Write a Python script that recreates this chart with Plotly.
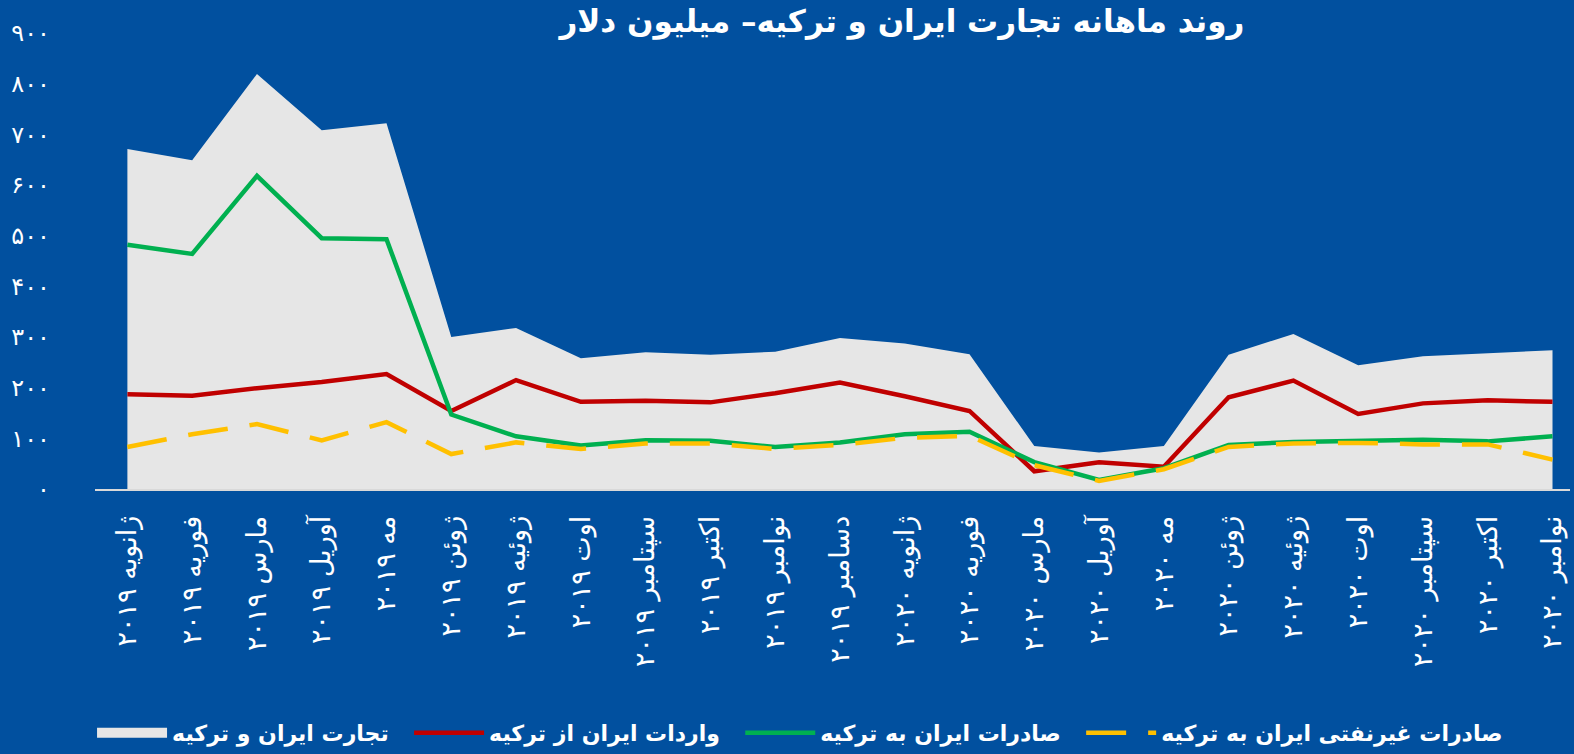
import plotly.graph_objects as go

months = ["ژانویه", "فوریه", "مارس", "آوریل", "مه", "ژوئن", "ژوئیه", "اوت",
          "سپتامبر", "اکتبر", "نوامبر", "دسامبر",
          "ژانویه", "فوریه", "مارس", "آوریل", "مه", "ژوئن", "ژوئیه", "اوت",
          "سپتامبر", "اکتبر", "نوامبر"]
years = ["۲۰۱۹"] * 12 + ["۲۰۲۰"] * 11
categories = [f"{m} {y}" for m, y in zip(months, years)]

total_trade = [671, 649, 819, 708, 722, 300, 318, 258, 270, 265, 271, 298,
               287, 266, 85, 72, 85, 265, 306, 244, 262, 268, 274]
imports_from_turkey = [187, 184, 199, 211, 227, 154, 215, 172, 174, 171, 189, 210,
                       183, 154, 35, 53, 44, 181, 214, 148, 169, 175, 172]
exports_to_turkey = [482, 464, 618, 495, 493, 147, 104, 86, 96, 95, 83, 92,
                     108, 113, 53, 18, 41, 87, 93, 96, 97, 94, 104]
nonoil_exports = [83, 108, 128, 96, 132, 69, 92, 79, 90, 90, 79, 87,
                  101, 105, 47, 16, 39, 83, 90, 91, 88, 88, 58]

y_ticks = [0, 100, 200, 300, 400, 500, 600, 700, 800, 900]
y_tick_text = ["۰", "۱۰۰", "۲۰۰", "۳۰۰", "۴۰۰", "۵۰۰", "۶۰۰", "۷۰۰", "۸۰۰", "۹۰۰"]

names = ["تجارت ایران و ترکیه", "واردات ایران از ترکیه",
         "صادرات ایران به ترکیه", "صادرات غیرنفتی ایران به ترکیه"]
title_text = "روند ماهانه تجارت ایران و ترکیه– میلیون دلار"

BG = "#01509F"
FONT = "DejaVu Sans"
PAD = "\u00a0\u00a0"

fig = go.Figure()
fig.add_trace(go.Scatter(x=categories, y=total_trade, name=names[0], mode="lines",
                         fill="tozeroy", fillcolor="#E6E6E6", showlegend=False,
                         legendgroup="total", line=dict(color="#E6E6E6", width=0)))
# legend proxy for the area (thicker swatch like the original box)
fig.add_trace(go.Scatter(x=[None], y=[None], name=names[0] + PAD, mode="lines",
                         legendgroup="total", hoverinfo="skip",
                         line=dict(color="#E6E6E6", width=18)))
fig.add_trace(go.Scatter(x=categories, y=imports_from_turkey, name=names[1] + PAD, mode="lines",
                         line=dict(color="#C00000", width=4.5)))
fig.add_trace(go.Scatter(x=categories, y=exports_to_turkey, name=names[2] + PAD, mode="lines",
                         line=dict(color="#00B050", width=4.5)))
fig.add_trace(go.Scatter(x=categories, y=nonoil_exports, name=names[3], mode="lines",
                         line=dict(color="#FFC000", width=4.5, dash="40px,22px")))

fig.update_layout(
    width=1574, height=754,
    paper_bgcolor=BG, plot_bgcolor=BG,
    margin=dict(l=95, r=4, t=33, b=265, autoexpand=False),
    font=dict(family=FONT, color="white"),
    title=dict(text=f"<b>{title_text}</b>", xref="container", x=0.573, xanchor="center",
               yref="container", y=0.972, yanchor="middle",
               font=dict(size=31, color="white", family=FONT)),
    showlegend=True,
    legend=dict(orientation="h", xref="paper", x=0.478, xanchor="center",
                yref="paper", y=-0.535, yanchor="middle",
                font=dict(size=22, color="white", family=FONT, weight="bold"),
                itemwidth=70, bgcolor="rgba(0,0,0,0)", traceorder="normal"),
)
fig.update_xaxes(type="category", range=[-0.5, 22.27], showgrid=False, zeroline=False,
                 showline=True, linecolor="#D9D9D9", linewidth=2, automargin=False,
                 tickangle=-90, ticks="", ticklabelstandoff=14,
                 tickfont=dict(size=27, color="white", family=FONT))
fig.update_yaxes(range=[0, 900], tickvals=y_ticks, ticktext=y_tick_text, automargin=False,
                 showgrid=False, zeroline=False, showline=False, ticks="",
                 ticklabelstandoff=44,
                 tickfont=dict(size=24, color="white", family=FONT))

fig.write_html("out.html", config={"displayModeBar": False},
               post_script="document.body.style.margin='0px';document.body.style.overflow='hidden';")
